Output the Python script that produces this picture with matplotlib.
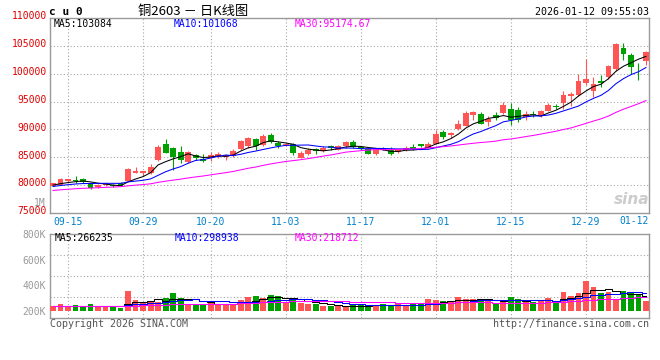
import numpy as np
import matplotlib
matplotlib.use("Agg")
import matplotlib.pyplot as plt
from matplotlib.transforms import ScaledTranslation, blended_transform_factory

# ---------------- data ----------------
tick_idx = [2, 12, 21, 31, 41, 51, 61, 71]
tick_labels = ["09-15", "09-29", "10-20", "11-03", "11-17", "12-01", "12-15", "12-29"]
last_label = "01-12"

opens = [79880, 80000, 80710, 80890, 81130, 80120, 79700, 80000, 80060, 80300,
         80830, 82200, 82140, 82200, 84520, 87440, 86670, 85890, 84230, 85480,
         84760, 84880, 85060, 85060, 85180, 86430, 86970, 88270, 87200, 88930,
         87560, 87200, 87440, 84940, 85540, 86490, 86130, 86960, 86370, 87080,
         87680, 86850, 86490, 85540, 86670, 86250, 85900, 86250, 86850, 87320,
         86730, 87470, 89600, 88990, 90060, 90660, 92560, 92800, 91370, 92560,
         92920, 93630, 93510, 92200, 92800, 92440, 93390, 94230, 94700, 96010,
         96250, 98270, 96960, 98630, 99350, 100770, 104580, 103270, 101610, 102200]
highs = [80420, 81310, 81190, 81670, 81250, 80240, 80240, 80420, 80240, 80480,
         83030, 83270, 82620, 83870, 87200, 88210, 86790, 87020, 86070, 85540,
         85540, 86010, 85890, 85600, 86490, 88040, 88630, 88510, 89110, 89290,
         87920, 87560, 87560, 86130, 86610, 86730, 86960, 87200, 87200, 87920,
         88040, 86960, 86730, 86370, 86850, 86850, 86430, 87080, 87320, 87440,
         87680, 89880, 89940, 89580, 91610, 93270, 93390, 93160, 92440, 93160,
         94940, 94700, 93990, 93390, 93270, 93510, 94820, 94580, 96850, 96730,
         99940, 102680, 99350, 99820, 101490, 105540, 105540, 103630, 101960, 104110]
lows = [79820, 79940, 80600, 80360, 80360, 79350, 79520, 79880, 79700, 79760,
        80710, 82200, 81610, 82080, 84400, 85710, 82740, 83990, 84050, 84520,
        84170, 84400, 84940, 84580, 85060, 86250, 86730, 86370, 87080, 87500,
        86610, 87080, 85420, 84820, 85420, 85660, 85890, 86370, 86250, 86730,
        86730, 86310, 85540, 85420, 86250, 85420, 85710, 86130, 86370, 86900,
        86610, 87380, 88270, 88510, 89940, 90540, 91730, 90890, 90660, 91610,
        92680, 90770, 91370, 91610, 92200, 92200, 93270, 93630, 93750, 94230,
        96010, 98040, 95890, 97680, 99110, 100540, 102440, 99940, 98870, 101610]
closes = [80300, 81130, 81070, 80770, 80480, 79460, 80000, 80300, 79820, 79880,
          82920, 82560, 82500, 83270, 86900, 85830, 85060, 84460, 85890, 84940,
          84400, 85480, 85540, 85480, 86130, 87920, 88390, 86970, 88750, 87740,
          86970, 87440, 85770, 85770, 86370, 86130, 86730, 86610, 86960, 87800,
          86850, 86490, 85660, 86250, 86370, 85600, 86370, 86730, 86490, 86960,
          87470, 89260, 88700, 89350, 91010, 92920, 93040, 91010, 91960, 92080,
          94350, 91610, 91730, 92800, 92560, 93270, 94460, 94110, 96250, 96370,
          98750, 98990, 98160, 98270, 101370, 105420, 103510, 101250, 101490, 103870]
# closes of the 29 sessions before the window (needed for the moving averages)
prior_closes = [77800, 78100, 77900, 78300, 78000, 78200, 78400, 78100, 78000, 78130,
                79000, 79200, 79400, 79100, 79300, 79500, 79250, 79350, 79400, 79470,
                79400, 79600, 79500, 79700, 79400, 79800, 80100, 79900, 79900]

# volume, thousand lots
volumes = [237, 252, 231, 244, 231, 252, 237, 237, 237, 226,
           353, 283, 268, 278, 272, 299, 338, 299, 257, 257,
           257, 270, 247, 247, 247, 283, 309, 315, 299, 322,
           315, 272, 288, 262, 257, 257, 241, 241, 237, 237,
           247, 252, 241, 241, 252, 241, 257, 237, 257, 257,
           293, 283, 278, 268, 309, 293, 293, 293, 283, 257,
           272, 309, 293, 268, 272, 283, 299, 272, 346, 315,
           340, 431, 387, 340, 346, 283, 356, 340, 325, 278]
prior_volumes = [236, 234, 238, 233, 235, 237, 234, 236, 235, 233,
                 237, 235, 234, 236, 238, 233, 235, 236, 234, 237,
                 235, 236, 233, 234, 237, 236, 235, 234, 236]

price_ticks = [75000, 80000, 85000, 90000, 95000, 100000, 105000, 110000]
vol_ticks = [200, 400, 600, 800]
vol_tick_labels = ["200K", "400K", "600K", "800K"]

header_code = "c u 0"
header_title = "铜2603 － 日K线图"
header_time = "2026-01-12 09:55:03"
price_ma_text = ["MA5:103084", "MA10:101068", "MA30:95174.67"]
vol_ma_text = ["MA5:266235", "MA10:298938", "MA30:218712"]

# ---------------- style ----------------
RED = "#ff5555"
GREEN = "#00a000"
MA_COLORS = ["#000000", "#0000ff", "#ff00ff"]
GRID = "#a8a8a8"
FRAME = "#9a9a9a"
MONO = "DejaVu Sans Mono"
plt.rcParams["font.family"] = [MONO, "DejaVu Sans"]

W, H = 660, 360
fig = plt.figure(figsize=(W / 100, H / 100), dpi=100)
fig.patch.set_facecolor("white")


def frac(x0, y0, x1, y1):
    return [x0 / W, 1 - y1 / H, (x1 - x0) / W, (y1 - y0) / H]


ax = fig.add_axes(frac(50, 18, 649, 213))
axv = fig.add_axes(frac(50, 234, 649, 318))

n = len(closes)
x = np.arange(n)
O = np.array(opens, float)
Hh = np.array(highs, float)
L = np.array(lows, float)
C = np.array(closes, float)
V = np.array(volumes, float)
up = C >= O
cols = np.where(up, RED, GREEN)


def moving_avg(prior, vals, k):
    allv = np.concatenate([np.array(prior, float), np.array(vals, float)])
    out = np.convolve(allv, np.ones(k) / k, mode="valid")
    return out[-len(vals):]


for a in (ax, axv):
    a.set_xlim(-0.4, n - 0.6)
    for s in a.spines.values():
        s.set_color(FRAME)
        s.set_linewidth(1.0)
    for i in tick_idx:
        a.axvline(i, color=GRID, lw=0.8, ls=(0, (1, 2)), zorder=1)

# ---- price panel ----
ax.set_ylim(75000, 110000)
for p in price_ticks[1:-1]:
    ax.axhline(p, color=GRID, lw=0.8, ls=(0, (1, 2)), zorder=1)
ax.vlines(x, L, Hh, colors=cols, lw=0.8, zorder=3)
body = np.maximum(np.abs(C - O), 150)
ax.bar(x, body, bottom=np.minimum(O, C), width=0.78, color=cols, lw=0, zorder=4)
for k, c in zip((5, 10, 30), MA_COLORS):
    ax.plot(x, moving_avg(prior_closes, closes, k), color=c, lw=0.75, zorder=5)

ax.set_yticks(price_ticks)
ax.set_yticklabels([str(p) for p in price_ticks])
ax.tick_params(axis="y", length=0, pad=2.2, labelsize=7, labelcolor="#e00000")
for lab in ax.get_yticklabels():
    lab.set_transform(lab.get_transform() + ScaledTranslation(0, 2 / 72, fig.dpi_scale_trans))
ax.set_xticks(tick_idx)
ax.set_xticklabels(tick_labels)
ax.tick_params(axis="x", length=0, pad=3, labelsize=7, labelcolor="#0080cc")
ax.text(1.0, -8 / 195, last_label, transform=ax.transAxes, ha="right", va="center",
        fontsize=7, color="#0080cc")
ax.text(1.0, 14 / 195, "sina", transform=ax.transAxes, ha="right", va="center",
        fontsize=11, style="italic", weight="bold", color="#cccccc",
        family="DejaVu Sans", zorder=0)

# ---- volume panel ----
axv.set_ylim(145.5, 800)
for f in (0.25, 0.5, 0.75):
    axv.axhline(145.5 + f * (800 - 145.5), color=GRID, lw=0.8, ls=(0, (1, 2)), zorder=1)
axv.bar(x, V - 200, bottom=200, width=0.78, color=cols, lw=0, zorder=3)
for k, c in zip((5, 10, 30), MA_COLORS):
    axv.plot(x, moving_avg(prior_volumes, volumes, k), color=c, lw=0.75,
             drawstyle="steps-mid", zorder=5)
axv.set_yticks(vol_ticks)
axv.set_yticklabels(vol_tick_labels)
axv.tick_params(axis="y", length=0, pad=3, labelsize=7, labelcolor="#999999")
axv.set_xticks([])
axv.text(-4 / 599, 1045, "1M", transform=blended_transform_factory(axv.transAxes, axv.transData),
         ha="right", va="center", fontsize=7, color="#999999", clip_on=False)


def ftext(px, py, s, **kw):
    fig.text(px / W, 1 - py / H, s, va="center", **kw)


ftext(49, 12, header_code, fontsize=8, weight="bold", color="black")
ftext(193, 12, header_title, ha="center", fontsize=9.5, color="black",
      family=["Noto Sans CJK SC", "DejaVu Sans"])
ftext(649, 12, header_time, ha="right", fontsize=7.2, color="black")
for px, s, c in zip((54, 174, 295), price_ma_text, MA_COLORS):
    ftext(px, 24, s, fontsize=7, color=c)
for px, s, c in zip((55, 175, 295), vol_ma_text, MA_COLORS):
    ftext(px, 238, s, fontsize=7, color=c)
ftext(50, 324, "Copyright 2026 SINA.COM", fontsize=7.2, color="#555555")
ftext(649, 324, "http://finance.sina.com.cn", ha="right", fontsize=7.2, color="#555555")

fig.savefig("out.png", dpi=100)
